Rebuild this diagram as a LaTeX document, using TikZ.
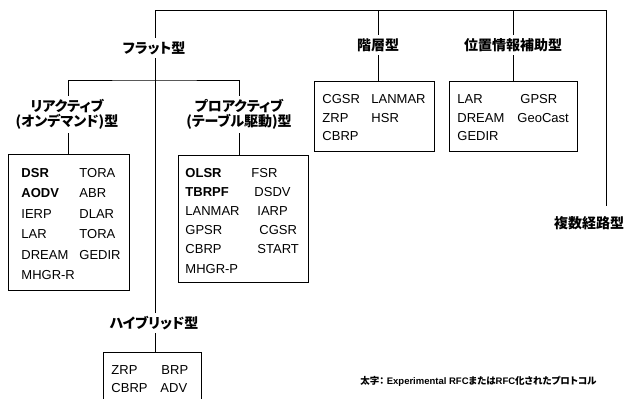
\documentclass[tikz,border=0pt]{standalone}
\usepackage{fontspec}
\setmainfont{Liberation Sans}
\newfontfamily\jp[RawFeature=+palt]{Noto Sans CJK JP}
\begin{document}
\begin{tikzpicture}[x=1pt,y=-1pt,
  line width=0.9pt,
  lbl/.style={font=\jp\bfseries\fontsize{14}{15}\selectfont, inner sep=3pt, align=center},
  boxnode/.style={draw, anchor=north west, inner sep=0pt},
  item/.style={anchor=base west, inner sep=0pt, font=\fontsize{13}{15}\selectfont},
  bitem/.style={item, font=\fontsize{13}{15}\selectfont\bfseries},
  note/.style={font=\fontsize{9.5}{11}\selectfont\bfseries, inner sep=0pt}]
\useasboundingbox (0,0) rectangle (627,399);

% labels
\node[lbl] (flat) at (154,48) {フラット型};
\node[lbl] (hier) at (378,45) {階層型};
\node[lbl] (loc) at (513,45) {位置情報補助型};
\node[lbl] (multi) at (589,223) {複数経路型};
\node[lbl] (react) at (67,114.5) {リアクティブ\\(オンデマンド)型};
\node[lbl] (pro) at (239,114.5) {プロアクティブ\\(テーブル駆動)型};
\node[lbl] (hyb) at (154,323) {ハイブリッド型};

% boxes
\node[boxnode, minimum width=121pt, minimum height=136pt] (rbox) at (8,154) {};
\node[boxnode, minimum width=130pt, minimum height=127pt] (pbox) at (178,155) {};
\node[boxnode, minimum width=120pt, minimum height=70pt] (hbox) at (314,81) {};
\node[boxnode, minimum width=128pt, minimum height=70pt] (lbox) at (449,81) {};
\node[boxnode, minimum width=98pt, minimum height=62pt] (ybox) at (103,352) {};

% connectors
\coordinate (tl) at (155,10);
\coordinate (tr) at (606,10);
\coordinate (mend) at (606,206);
\coordinate (fork) at (155,80);
\draw (flat.north -| tl) -- (tl) -- (tr) -- (mend);
\draw (hier.north) -- (hier.north |- tr);
\draw (loc.north) -- (loc.north |- tr);
\draw (flat.south -| tl) -- (hyb.north -| tl);
\draw (react.north -| 68,0) |- (fork) -| (pro.north);
\draw (react.south -| 68,0) -- (rbox.north -| 68,0);
\draw (pro.south) -- (pro.south |- pbox.north);
\draw (hier.south) -- (hier.south |- hbox.north);
\draw (loc.south) -- (loc.south |- lbox.north);
\draw (hyb.south -| tl) -- (ybox.north -| tl);

% reactive entries
\node[bitem] (r1a) at (21,177) {DSR};    \node[item] (r1b) at (79,177) {TORA};
\node[bitem] (r2a) at (21,197.5) {AODV}; \node[item] (r2b) at (79,197.5) {ABR};
\node[item] (r3a) at (21,218) {IERP};    \node[item] (r3b) at (79,218) {DLAR};
\node[item] (r4a) at (21,238.5) {LAR};   \node[item] (r4b) at (79,238.5) {TORA};
\node[item] (r5a) at (21,259) {DREAM};   \node[item] (r5b) at (79,259) {GEDIR};
\node[item] (r6a) at (21,279.5) {MHGR-R};

% proactive entries
\node[bitem] (p1a) at (185,177) {OLSR};    \node[item] (p1b) at (251,177) {FSR};
\node[bitem] (p2a) at (185,196.2) {TBRPF}; \node[item] (p2b) at (254,196.2) {DSDV};
\node[item] (p3a) at (185,215.4) {LANMAR}; \node[item] (p3b) at (257,215.4) {IARP};
\node[item] (p4a) at (185,234.6) {GPSR};   \node[item] (p4b) at (259,234.6) {CGSR};
\node[item] (p5a) at (185,253.8) {CBRP};   \node[item] (p5b) at (257,253.8) {START};
\node[item] (p6a) at (185,273) {MHGR-P};

% hierarchical entries
\node[item] (h1a) at (322,103.5) {CGSR}; \node[item] (h1b) at (371,103.5) {LANMAR};
\node[item] (h2a) at (322,122) {ZRP};    \node[item] (h2b) at (371,122) {HSR};
\node[item] (h3a) at (322,140.5) {CBRP};

% location entries
\node[item] (l1a) at (457,103.5) {LAR};   \node[item] (l1b) at (520,103.5) {GPSR};
\node[item] (l2a) at (457,122) {DREAM};   \node[item] (l2b) at (517,122) {GeoCast};
\node[item] (l3a) at (457,140.5) {GEDIR};

% hybrid entries
\node[item] (y1a) at (111,374.5) {ZRP};  \node[item] (y1b) at (161,374.5) {BRP};
\node[item] (y2a) at (111,392.5) {CBRP}; \node[item] (y2b) at (160,392.5) {ADV};

% footnote
\node[note, anchor=west] (fn) at (360,381) {{\jp 太字：}\ Experimental RFC{\jp または}RFC{\jp 化されたプロトコル}};
\end{tikzpicture}
\end{document}
